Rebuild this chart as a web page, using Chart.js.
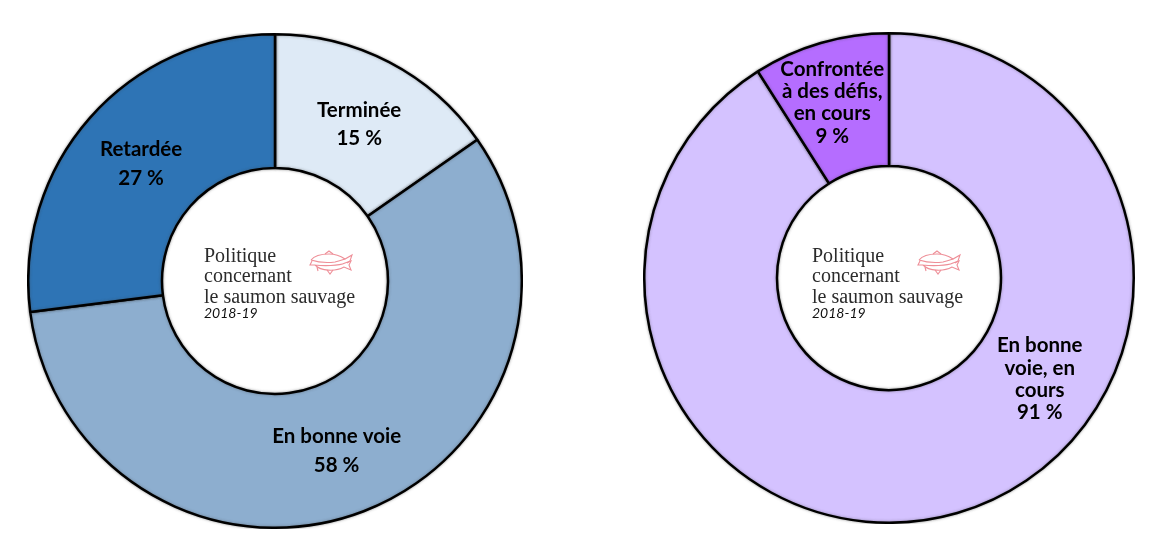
<!DOCTYPE html>
<html lang="fr">
<head>
<meta charset="utf-8">
<title>Politique concernant le saumon sauvage 2018-19</title>
<script src="https://cdn.jsdelivr.net/npm/chart.js@4"></script>
<style>
    html, body { margin: 0; padding: 0; background: #fff; }
    #page { position: relative; width: 1161px; height: 553px; overflow: hidden; }
    .chart-box { position: absolute; }
    #left-box { left: 27px; top: 33px; width: 496px; height: 496px; }
    #right-box { left: 643px; top: 32px; width: 492px; height: 492px; }
    .fish { position: absolute; width: 44px; height: 26px; filter: blur(0.35px); }
    #fish-left { left: 309px; top: 250px; }
    #fish-right { left: 917px; top: 250px; }
</style>
</head>
<body>
<div id="page">
    <div class="chart-box" id="left-box"><canvas id="left-chart"></canvas></div>
    <div class="chart-box" id="right-box"><canvas id="right-chart"></canvas></div>
    <svg class="fish" id="fish-left" viewBox="0 0 44 26"><use href="#salmon"/></svg>
    <svg class="fish" id="fish-right" viewBox="0 0 44 26"><use href="#salmon"/></svg>
    <svg width="0" height="0" style="position:absolute">
        <defs>
            <g id="salmon" fill="none" stroke="#ee8f98" stroke-width="1.1">
                <path d="M2 10 C6 5 14 4 20 4 C27 4 33 7 36 9 L43 5 L41 11 L38 13"/>
                <path d="M2 10 C8 12 18 13 26 12 C30 11 33 10 36 9"/>
                <path d="M3 11 L1 15 L6 15 C12 21 26 22 35 17 L42 20 L40 15 L42 11 L36 13 C30 16 14 16 6 15"/>
                <path d="M16 4 L20 1 L24 4 M18 20 L21 24 L24 20 M8 17 L9 21"/>
            </g>
        </defs>
    </svg>
</div>
<script>
// Left chart
const leftLabels = [['Terminée', '15 %'], ['En bonne voie', '58 %'], ['Retardée', '27 %']];
const leftValues = [15.3, 57.7, 27];
const leftColors = ['#deeaf6', '#8daecf', '#2e74b5'];

// Right chart
const rightLabels = [['En bonne', 'voie, en', 'cours', '91 %'], ['Confrontée', 'à des défis,', 'en cours', '9 %']];
const rightValues = [91, 9];
const rightColors = ['#d4c2ff', '#b56dff'];

const centerTitle = ['Politique', 'concernant', 'le saumon sauvage'];
const centerYear = '2018-19';

// Soft grey edge that the original slices have along their outlines
const shadowPlugin = {
    id: 'shadowPlugin',
    beforeDatasetsDraw(chart) {
        chart.ctx.save();
        chart.ctx.shadowColor = 'rgba(60, 60, 60, 0.45)';
        chart.ctx.shadowBlur = 3;
    },
    afterDatasetsDraw(chart) {
        chart.ctx.restore();
    }
};

// Draws the labels on the slices and the text in the hole
const textPlugin = {
    id: 'textPlugin',
    afterDraw(chart, args, opts) {
        const ctx = chart.ctx;
        const arcs = chart.getDatasetMeta(0).data;
        ctx.save();
        ctx.fillStyle = '#000';
        ctx.textAlign = 'center';
        ctx.textBaseline = 'middle';
        ctx.font = 'bold 20.5px Lato';
        arcs.forEach((arc, i) => {
            const pos = arc.getCenterPoint();
            const shift = opts.shifts[i];
            const lines = opts.labels[i];
            const top = pos.y + shift[1] - (lines.length - 1) * opts.lineHeight / 2;
            lines.forEach((line, j) => {
                ctx.fillText(line, pos.x + shift[0], top + j * opts.lineHeight);
            });
        });

        const cx = arcs[0].x + opts.center[0];
        const cy = arcs[0].y + opts.center[1];
        ctx.textAlign = 'left';
        ctx.fillStyle = '#2b2b2b';
        ctx.font = '20px "Liberation Serif"';
        centerTitle.forEach((line, j) => {
            ctx.fillText(line, cx, cy + j * 20.5);
        });
        ctx.fillStyle = '#111';
        ctx.font = 'italic 14px Lato';
        ctx.fillText(centerYear, cx, cy + 56.5);
        ctx.restore();
    }
};

function drawDoughnut(id, values, colors, labels, cutout, textOpts) {
    new Chart(document.getElementById(id), {
        type: 'doughnut',
        data: {
            labels: labels.map(l => l.join(' ')),
            datasets: [{
                data: values,
                backgroundColor: colors,
                borderColor: '#000',
                borderWidth: 2.5,
                borderAlign: 'center'
            }]
        },
        options: {
            responsive: true,
            maintainAspectRatio: false,
            animation: false,
            cutout: cutout,
            layout: { padding: 0 },
            plugins: {
                legend: { display: false },
                tooltip: { enabled: false },
                textPlugin: Object.assign({ labels: labels }, textOpts)
            }
        },
        plugins: [shadowPlugin, textPlugin]
    });
}

drawDoughnut('left-chart', leftValues, leftColors, leftLabels, 113, {
    lineHeight: 28.5,
    shifts: [[1, 3], [-3, 2], [1, 2]],
    center: [-71, -24.5]
});

drawDoughnut('right-chart', rightValues, rightColors, rightLabels, 112, {
    lineHeight: 22.3,
    shifts: [[101, -70], [-7, -4]],
    center: [-77, -21.5]
});
</script>
</body>
</html>
